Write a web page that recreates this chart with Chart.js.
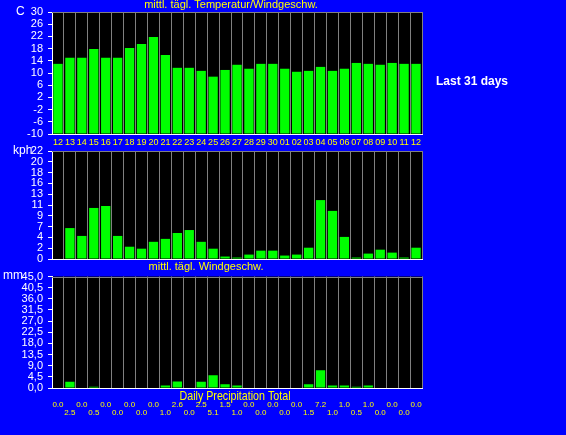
<!DOCTYPE html>
<html>
<head>
<meta charset="utf-8">
<script src="https://cdn.jsdelivr.net/npm/chart.js@4.4.1/dist/chart.umd.min.js"></script>
<style>
  html, body { margin: 0; padding: 0; background: #0000ff; }
  body { width: 566px; height: 435px; position: relative; overflow: hidden; }
  canvas { position: absolute; left: 0; }
</style>
</head>
<body>
<canvas id="tempChart" width="566" height="150" style="top:0px"></canvas>
<canvas id="windChart" width="566" height="135" style="top:140px"></canvas>
<canvas id="rainChart" width="566" height="169" style="top:266px"></canvas>
<script>
// last 31 days
var days = ['12', '13', '14', '15', '16', '17', '18', '19', '20', '21', '22', '23', '24', '25', '26', '27',
    '28', '29', '30', '01', '02', '03', '04', '05', '06', '07', '08', '09', '10', '11', '12'];

// mittl. tägl. Temperatur (C)
var tempValues = [13.0, 15.0, 15.0, 17.9, 15.0, 15.0, 18.2, 19.5, 21.8, 15.9, 11.7, 11.7, 10.7, 8.8, 11.0, 12.7,
    11.4, 13.0, 13.0, 11.4, 10.4, 10.7, 12.0, 10.7, 11.4, 13.3, 13.0, 12.7, 13.3, 13.0, 13.0];

// mittl. tägl. Windgeschw. (kph)
var windValues = [0, 6.3, 4.7, 10.4, 10.8, 4.7, 2.5, 2.1, 3.5, 4.1, 5.3, 5.9, 3.5, 2.1, 0.5, 0.3,
    0.9, 1.7, 1.7, 0.7, 0.9, 2.3, 12.0, 9.8, 4.5, 0.3, 1.1, 1.9, 1.3, 0.3, 2.3];

// Daily Precipitation Total (mm)
var rainValues = [0.0, 2.5, 0.0, 0.5, 0.0, 0.0, 0.0, 0.0, 0.0, 1.0, 2.6, 0.0, 2.5, 5.1, 1.5, 1.0,
    0.0, 0.0, 0.0, 0.0, 0.0, 1.5, 7.2, 1.0, 1.0, 0.5, 1.0, 0.0, 0.0, 0.0, 0.0];

var windTickLabels = ['0', '2', '4', '7', '9', '11', '13', '16', '18', '20', '22'];
var rainTickLabels = ['0,0', '4,5', '9,0', '13,5', '18,0', '22,5', '27,0', '31,5', '36,0', '40,5', '45,0'];

var FONT = '"Liberation Sans", Arial, sans-serif';
Chart.defaults.font.family = FONT;

// black plot area, gray top edge and the loose texts of each panel
function panelPlugin(texts) {
    return {
        id: 'panel',
        beforeDraw: function (chart) {
            var a = chart.chartArea, ctx = chart.ctx;
            ctx.save();
            ctx.fillStyle = '#000000';
            ctx.fillRect(a.left, a.top, a.right - a.left, a.bottom - a.top);
            ctx.restore();
        },
        afterDraw: function (chart) {
            var a = chart.chartArea, ctx = chart.ctx;
            ctx.save();
            ctx.strokeStyle = '#808080';
            ctx.lineWidth = 1;
            ctx.beginPath();
            ctx.moveTo(a.left, Math.round(a.top) + 0.5);
            ctx.lineTo(a.right, Math.round(a.top) + 0.5);
            ctx.stroke();
            texts.forEach(function (t) {
                ctx.font = t.font;
                ctx.fillStyle = t.color;
                ctx.textAlign = t.align || 'left';
                ctx.textBaseline = 'middle';
                if (t.maxWidth) {
                    ctx.fillText(t.text, t.x, t.y, t.maxWidth);
                } else {
                    ctx.fillText(t.text, t.x, t.y);
                }
            });
            ctx.restore();
        }
    };
}

function makeChart(id, values, opts) {
    var ctx = document.getElementById(id).getContext('2d');
    return new Chart(ctx, {
        type: 'bar',
        data: {
            labels: days,
            datasets: [{
                data: values,
                base: opts.base,
                backgroundColor: '#00ff00',
                borderWidth: 0,
                barPercentage: 0.78,
                categoryPercentage: 1.0
            }]
        },
        options: {
            responsive: false,
            animation: false,
            layout: { padding: { left: 0, right: 144, top: opts.top, bottom: 0 } },
            plugins: { legend: { display: false }, tooltip: { enabled: false } },
            scales: {
                x: {
                    afterFit: function (scale) { scale.height = opts.xHeight; },
                    grid: { color: '#808080', drawTicks: false, offset: true },
                    border: { color: '#ffffff' },
                    ticks: {
                        display: opts.xTicks !== false,
                        color: '#ffff00',
                        font: opts.xFont,
                        padding: opts.xPad,
                        autoSkip: false,
                        maxRotation: 0,
                        minRotation: 0,
                        callback: opts.xCallback || function (value, index) { return days[index]; }
                    }
                },
                y: {
                    min: opts.min,
                    max: opts.max,
                    afterFit: function (scale) { scale.width = 52; },
                    grid: { drawOnChartArea: false, drawTicks: true, tickLength: 4, tickColor: '#ffffff', color: '#ffffff' },
                    border: { color: '#ffffff' },
                    ticks: {
                        color: '#ffffff',
                        font: { size: 11, lineHeight: 1 },
                        padding: 5,
                        autoSkip: false,
                        stepSize: opts.stepSize,
                        count: opts.count,
                        callback: opts.yCallback || function (value) { return value; }
                    }
                }
            }
        },
        plugins: [panelPlugin(opts.texts)]
    });
}

makeChart('tempChart', tempValues, {
    base: -10, min: -10, max: 30, stepSize: 4,
    top: 12, xHeight: 16, xPad: 3, xFont: { size: 9 },
    texts: [
        { text: 'mittl. tägl. Temperatur/Windgeschw.', x: 231, y: 5, align: 'center', color: '#ffff00', font: '11px ' + FONT },
        { text: 'C', x: 16, y: 12, color: '#ffffff', font: '12px ' + FONT },
        { text: 'Last 31 days', x: 436, y: 82, color: '#ffffff', font: 'bold 12px ' + FONT }
    ]
});

makeChart('windChart', windValues, {
    min: 0, max: 22, count: 11,
    yCallback: function (value, index) { return windTickLabels[index]; },
    top: 11, xHeight: 16, xPad: 2, xTicks: false,
    texts: [
        { text: 'mittl. tägl. Windgeschw.', x: 206, y: 127, align: 'center', color: '#ffff00', font: '11px ' + FONT },
        { text: 'kph', x: 13, y: 11, color: '#ffffff', font: '12px ' + FONT }
    ]
});

makeChart('rainChart', rainValues, {
    min: 0, max: 45, count: 11,
    yCallback: function (value, index) { return rainTickLabels[index]; },
    top: 10, xHeight: 47, xPad: 13, xFont: { size: 8, lineHeight: 1 },
    // staggered value labels: even days on the first row, odd days on the second
    xCallback: function (value, index) {
        var s = rainValues[index].toFixed(1);
        return index % 2 ? ['', s] : [s];
    },
    texts: [
        { text: 'Daily Precipitation Total', x: 235, y: 130, align: 'center', color: '#ffff00', font: '13px ' + FONT, maxWidth: 111 },
        { text: 'mm', x: 3, y: 10, color: '#ffffff', font: '12px ' + FONT }
    ]
});
</script>
</body>
</html>
